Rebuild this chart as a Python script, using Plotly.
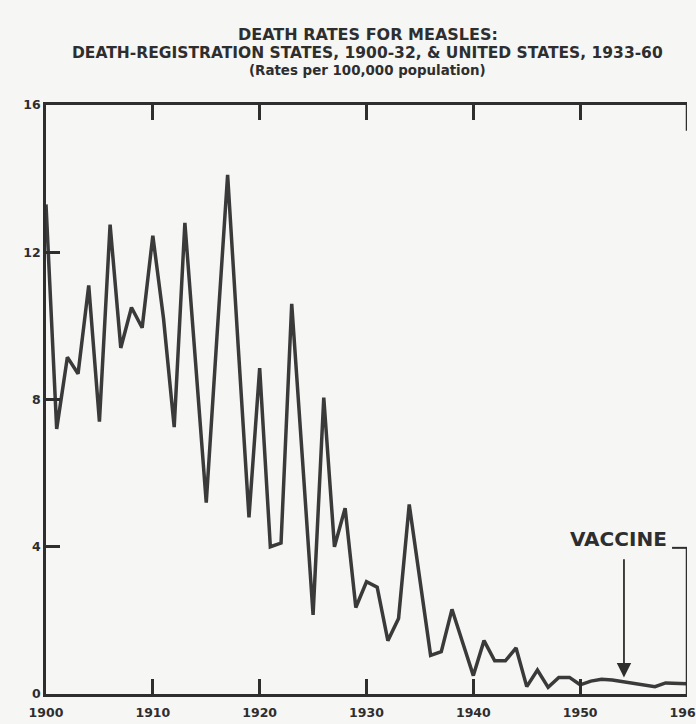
import plotly.graph_objects as go

years = list(range(1900, 1961))
rates = [13.3, 7.2, 9.15, 8.7, 11.1, 7.4, 12.75, 9.4, 10.5, 9.95,
         12.45, 10.2, 7.25, 12.8, 9.0, 5.2, 9.7, 14.1, 9.4, 4.8,
         8.85, 4.0, 4.1, 10.6, 6.4, 2.15, 8.05, 4.0, 5.05, 2.35,
         3.05, 2.9, 1.45, 2.05, 5.15, 3.1, 1.05, 1.15, 2.3, 1.4,
         0.5, 1.45, 0.9, 0.9, 1.25, 0.2, 0.65, 0.18, 0.45, 0.45,
         0.25, 0.35, 0.4, 0.38, 0.33, 0.28, 0.25, 0.2, 0.3, 0.3,
         0.28]
x_ticks = [1900, 1910, 1920, 1930, 1940, 1950, 1960]
y_ticks = [0, 4, 8, 12, 16]
title_lines = ["DEATH RATES FOR MEASLES:",
               "DEATH-REGISTRATION STATES, 1900-32, & UNITED STATES, 1933-60",
               "(Rates per 100,000 population)"]
vaccine_year = 1954.1

INK = "#2e2e2e"
BG = "#f6f6f4"
FONT = "DejaVu Sans, Verdana, sans-serif"

fig = go.Figure()
fig.add_trace(go.Scatter(x=years, y=rates, mode="lines",
                         line=dict(color="#3a3a3a", width=3.5),
                         hoverinfo="skip", cliponaxis=False))

fig.update_layout(
    width=696, height=724,
    margin=dict(l=46, r=9, t=105, b=30),
    paper_bgcolor=BG, plot_bgcolor=BG,
    showlegend=False,
    font=dict(family=FONT, color=INK),
)
fig.update_xaxes(range=[1900, 1960], tickvals=x_ticks,
                 ticktext=["<b>%d</b>" % v for v in x_ticks],
                 ticks="inside", ticklen=15, tickwidth=2.5, tickcolor=INK,
                 showline=True, linecolor=INK, linewidth=2.5,
                 mirror="ticks", showgrid=False, zeroline=False,
                 automargin=False, ticklabeloverflow="allow",
                 ticklabelstandoff=5,
                 tickfont=dict(size=12.5, color=INK, family=FONT))
fig.update_yaxes(range=[0, 16], tickvals=y_ticks,
                 ticktext=["<b>%d</b>" % v for v in y_ticks],
                 ticks="inside", ticklen=14, tickwidth=2.5, tickcolor=INK,
                 showline=True, linecolor=INK, linewidth=2.5,
                 mirror=False, showgrid=False, zeroline=False,
                 automargin=False, ticklabeloverflow="allow",
                 tickfont=dict(size=12.5, color=INK, family=FONT))

# right frame pieces (visible parts of the scanned frame)
fig.add_shape(type="line", xref="x", yref="y", x0=1960, x1=1960, y0=0, y1=3.97,
              line=dict(color=INK, width=2.5))
fig.add_shape(type="line", xref="x", yref="y", x0=1960, x1=1960, y0=15.3, y1=16,
              line=dict(color=INK, width=2.5))
fig.add_shape(type="line", xref="x", yref="y", x0=1958.6, x1=1960, y0=3.97, y1=3.97,
              line=dict(color=INK, width=2))

# title
title_y = [1.119, 1.088, 1.059]
title_size = [16, 15.5, 13.4]
for txt, yy, sz in zip(title_lines, title_y, title_size):
    fig.add_annotation(text="<b>%s</b>" % txt, xref="paper", yref="paper",
                       x=0.502, y=yy, xanchor="center", yanchor="middle",
                       showarrow=False, font=dict(size=sz, color=INK, family=FONT))

# vaccine annotation
fig.add_annotation(text="<b>VACCINE</b>", xref="x", yref="y",
                   x=vaccine_year - 0.55, y=4.2, xanchor="center", yanchor="middle",
                   showarrow=False, font=dict(size=20, color=INK, family=FONT))
fig.add_annotation(text="", xref="x", yref="y", axref="x", ayref="y",
                   x=vaccine_year, y=0.45, ax=vaccine_year, ay=3.7,
                   showarrow=True, arrowhead=2, arrowsize=1.6, arrowwidth=1.8,
                   arrowcolor=INK)

fig.write_html("out.html", config={"displayModeBar": False},
               post_script="document.body.style.margin='0';document.body.style.overflow='hidden';")
